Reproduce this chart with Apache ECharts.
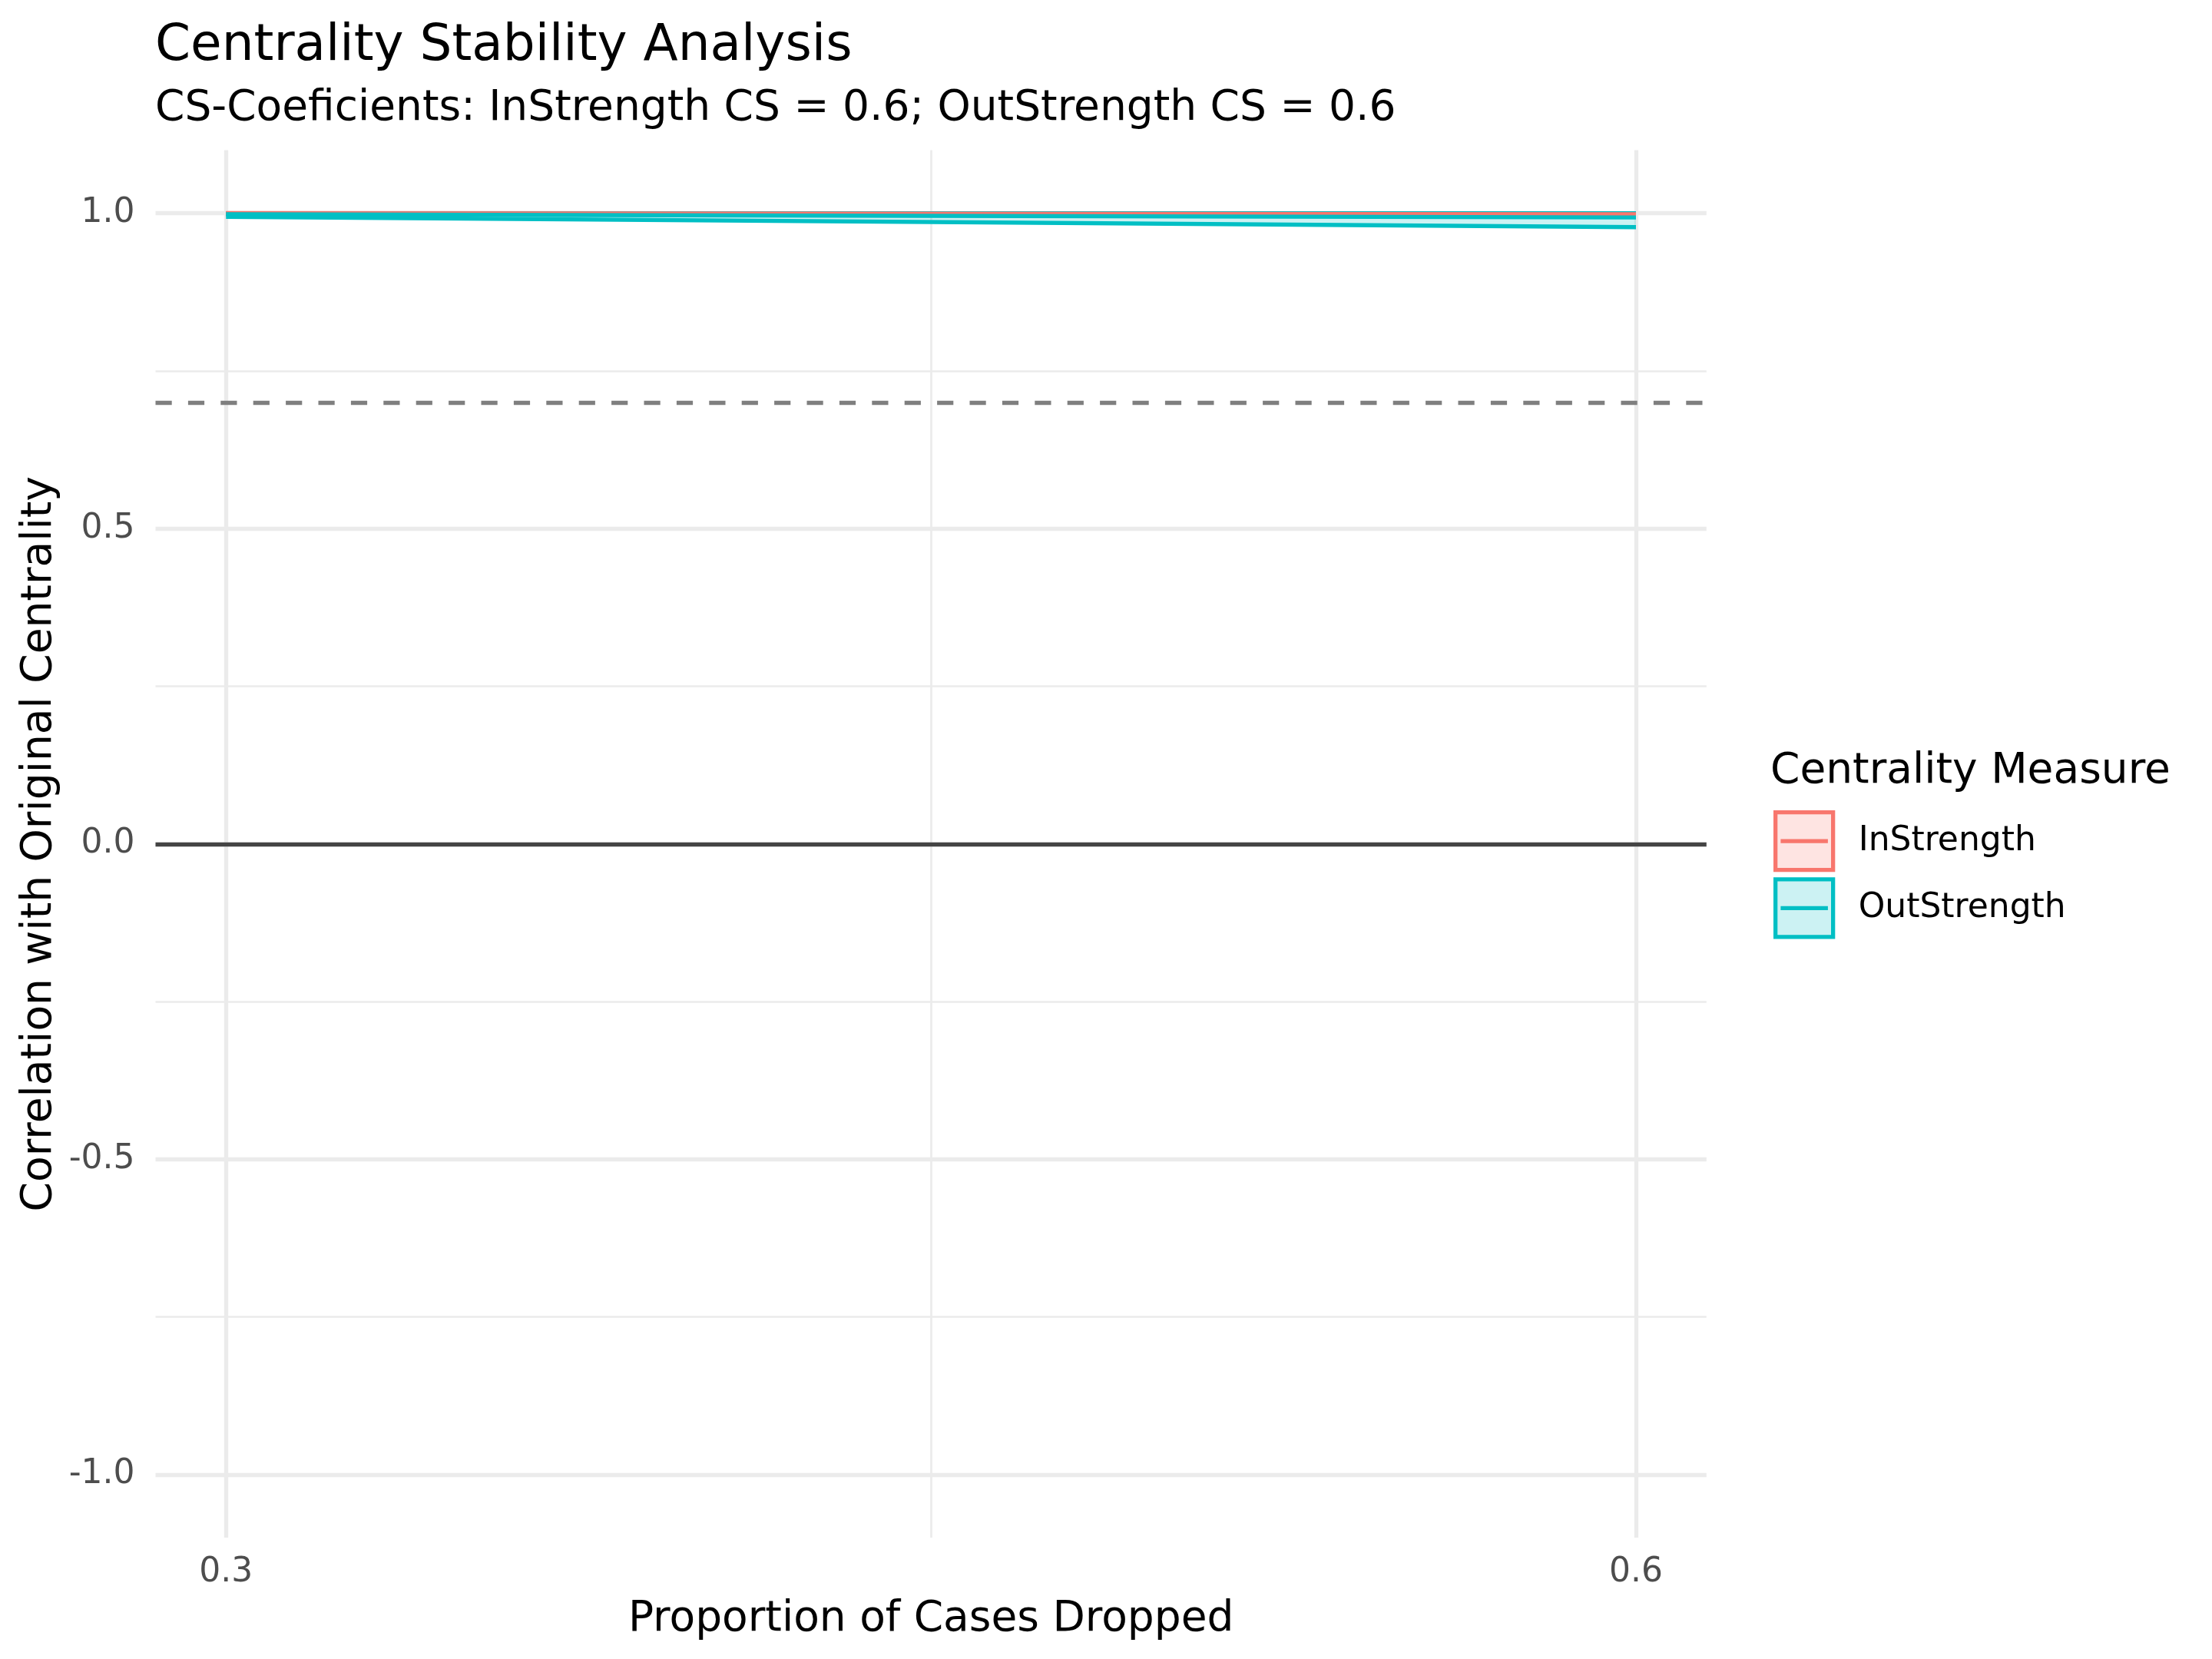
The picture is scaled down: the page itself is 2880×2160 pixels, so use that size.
<!DOCTYPE html>
<html><head><meta charset="utf-8">
<script src="https://cdn.jsdelivr.net/npm/echarts@6/dist/echarts.min.js"></script>
<style>html,body{margin:0;padding:0;background:#fff}#c{width:2880px;height:2160px}</style>
</head><body><div id="c"></div>
<script>
// ---- data ----
const proportions = [0.3, 0.6];
const inMean   = [0.9998, 0.9982];
const inLower  = [0.9990, 0.9965];
const inUpper  = [1.0000, 0.9992];
const outMean  = [0.9982, 0.9932];
const outLower = [0.9940, 0.9778];
const outUpper = [0.9995, 0.9998];
const xTickValues = [0.3, 0.6];
const xTickLabels = ['0.3', '0.6'];
const xMinorValues = [0.45];
const yTickValues = [-1, -0.5, 0, 0.5, 1];
const yTickLabels = ['-1.0', '-0.5', '0.0', '0.5', '1.0'];
const yMinorValues = [-0.75, -0.25, 0.25, 0.75];
const cutoffLine = 0.7;
const zeroLine = 0;
const seriesNames = ['InStrength', 'OutStrength'];

// ---- styling ----
const FONT = 'DejaVu Sans';
const C_IN = '#F8766D', C_OUT = '#00BFC4';
const F_IN = 'rgba(248,118,109,0.2)', F_OUT = 'rgba(0,191,196,0.2)';
const GRID = '#EBEBEB';
const LW = 5.3;
const X_MIN = 0.285, X_MAX = 0.615, X_STEP = 0.015;
const Y_MIN = -1.1, Y_MAX = 1.1, Y_STEP = 0.05;

function tickList(min, max, step) {
  const n = Math.round((max - min) / step), out = [];
  for (let k = 0; k <= n; k++) out.push(+(min + k * step).toFixed(6));
  return out;
}
const near = (v, arr) => arr.findIndex(a => Math.abs(a - v) < 1e-6);
const xTicks = tickList(X_MIN, X_MAX, X_STEP);
const yTicks = tickList(Y_MIN, Y_MAX, Y_STEP);
const colorsFor = (ticks, vals) => ticks.map(v => near(v, vals) >= 0 ? GRID : 'rgba(0,0,0,0)');

const pts = ys => proportions.map((x, i) => [x, ys[i]]);
// ribbon segments: [x0, lo0, up0, x1, lo1, up1]
const segs = (lo, up) => proportions.slice(0, -1).map((x, i) =>
  [x, lo[i], up[i], proportions[i + 1], lo[i + 1], up[i + 1]]);

const base = { type: 'line', showSymbol: false, symbol: 'none', silent: true, animation: false,
  emphasis: { disabled: true }, xAxisIndex: 0, yAxisIndex: 0 };

function ribbon(name, lo, up, line, fill, extra) {
  return [
    { type: 'custom', name: name + ' band', silent: true, animation: false,
      xAxisIndex: 0, yAxisIndex: 0, data: segs(lo, up),
      encode: { x: [0, 3], y: [1, 2, 4, 5] },
      renderItem: (params, api) => {
        const a = api.coord([api.value(0), api.value(1)]);
        const b = api.coord([api.value(3), api.value(4)]);
        const c = api.coord([api.value(3), api.value(5)]);
        const d = api.coord([api.value(0), api.value(2)]);
        return { type: 'polygon', shape: { points: [a, b, c, d] }, style: { fill: fill, stroke: null } };
      } },
    Object.assign({}, base, { name: name + ' upper', data: pts(up), lineStyle: { color: line, width: LW } }, extra || {}),
    Object.assign({}, base, { name: name + ' lower', data: pts(lo), lineStyle: { color: line, width: LW } })
  ];
}

const refMarks = { markLine: { silent: true, symbol: 'none', animation: false, label: { show: false },
  emphasis: { disabled: true },
  data: [
    { yAxis: zeroLine, lineStyle: { color: '#444444', width: LW, type: 'solid', opacity: 1 } },
    { yAxis: cutoffLine, lineStyle: { color: '#7F7F7F', width: LW, type: [21.2, 21.2], opacity: 1 } }
  ] } };

const series = [].concat(
  ribbon(seriesNames[0], inLower, inUpper, C_IN, F_IN, refMarks),
  ribbon(seriesNames[1], outLower, outUpper, C_OUT, F_OUT),
  [
    Object.assign({}, base, { name: seriesNames[0], data: pts(inMean), lineStyle: { color: C_IN, width: LW }, itemStyle: { color: C_IN } }),
    Object.assign({}, base, { name: seriesNames[1], data: pts(outMean), lineStyle: { color: C_OUT, width: LW }, itemStyle: { color: C_OUT } })
  ]
);

const KEY_ICON = 'path://M0,0H100V100H0ZM9,50H91';

const chart = echarts.init(document.getElementById('c'), null, { renderer: 'canvas' });
chart.setOption({
  animation: false,
  backgroundColor: '#ffffff',
  textStyle: { fontFamily: FONT },
  title: [
    { text: 'Centrality Stability Analysis', left: 202, top: 28, padding: 0,
      textStyle: { fontFamily: FONT, fontSize: 66, fontWeight: 'normal', color: '#000' } },
    { text: 'CS-Coeficients: InStrength CS = 0.6; OutStrength CS = 0.6', left: 202, top: 114, padding: 0,
      textStyle: { fontFamily: FONT, fontSize: 55, fontWeight: 'normal', color: '#000' } },
    { text: 'Centrality Measure', left: 2305, top: 977, padding: 0,
      textStyle: { fontFamily: FONT, fontSize: 55, fontWeight: 'normal', color: '#000' } }
  ],
  legend: {
    orient: 'vertical', left: 2309, top: 1055, itemWidth: 75, itemHeight: 75, itemGap: 7, padding: 0,
    selectedMode: false, symbolKeepAspect: false,
    textStyle: { fontFamily: FONT, fontSize: 44, color: '#000', padding: [0, 0, 0, 28] },
    data: [
      { name: seriesNames[0], icon: KEY_ICON, itemStyle: { color: F_IN, borderColor: C_IN, borderWidth: LW, opacity: 1 } },
      { name: seriesNames[1], icon: KEY_ICON, itemStyle: { color: F_OUT, borderColor: C_OUT, borderWidth: LW, opacity: 1 } }
    ] },
  grid: { left: 202.5, top: 195.4, width: 2019.3, height: 1806.7, containLabel: false, outerBoundsMode: 'none' },
  xAxis: [
    { type: 'value', min: X_MIN, max: X_MAX, interval: X_STEP, position: 'bottom',
      name: 'Proportion of Cases Dropped', nameLocation: 'middle', nameGap: 79,
      nameTextStyle: { fontFamily: FONT, fontSize: 55, color: '#000' },
      axisLine: { show: false }, axisTick: { show: false },
      axisLabel: { margin: 23, fontFamily: FONT, fontSize: 44, color: '#4D4D4D',
        formatter: v => { const i = near(v, xTickValues); return i >= 0 ? xTickLabels[i] : ''; } },
      splitLine: { show: true, lineStyle: { width: LW, color: colorsFor(xTicks, xTickValues) } } },
    { type: 'value', min: X_MIN, max: X_MAX, interval: X_STEP, position: 'bottom',
      axisLine: { show: false }, axisTick: { show: false }, axisLabel: { show: false },
      splitLine: { show: true, lineStyle: { width: LW / 2, color: colorsFor(xTicks, xMinorValues) } } }
  ],
  yAxis: [
    { type: 'value', min: Y_MIN, max: Y_MAX, interval: Y_STEP, position: 'left',
      name: 'Correlation with Original Centrality', nameLocation: 'middle', nameGap: 121,
      nameTextStyle: { fontFamily: FONT, fontSize: 55, color: '#000' },
      axisLine: { show: false }, axisTick: { show: false },
      axisLabel: { margin: 27, fontFamily: FONT, fontSize: 44, color: '#4D4D4D',
        formatter: v => { const i = near(v, yTickValues); return i >= 0 ? yTickLabels[i] : ''; } },
      splitLine: { show: true, lineStyle: { width: LW, color: colorsFor(yTicks, yTickValues) } } },
    { type: 'value', min: Y_MIN, max: Y_MAX, interval: Y_STEP, position: 'left',
      axisLine: { show: false }, axisTick: { show: false }, axisLabel: { show: false },
      splitLine: { show: true, lineStyle: { width: LW / 2, color: colorsFor(yTicks, yMinorValues) } } }
  ],
  series: series
});
</script>
</body></html>
